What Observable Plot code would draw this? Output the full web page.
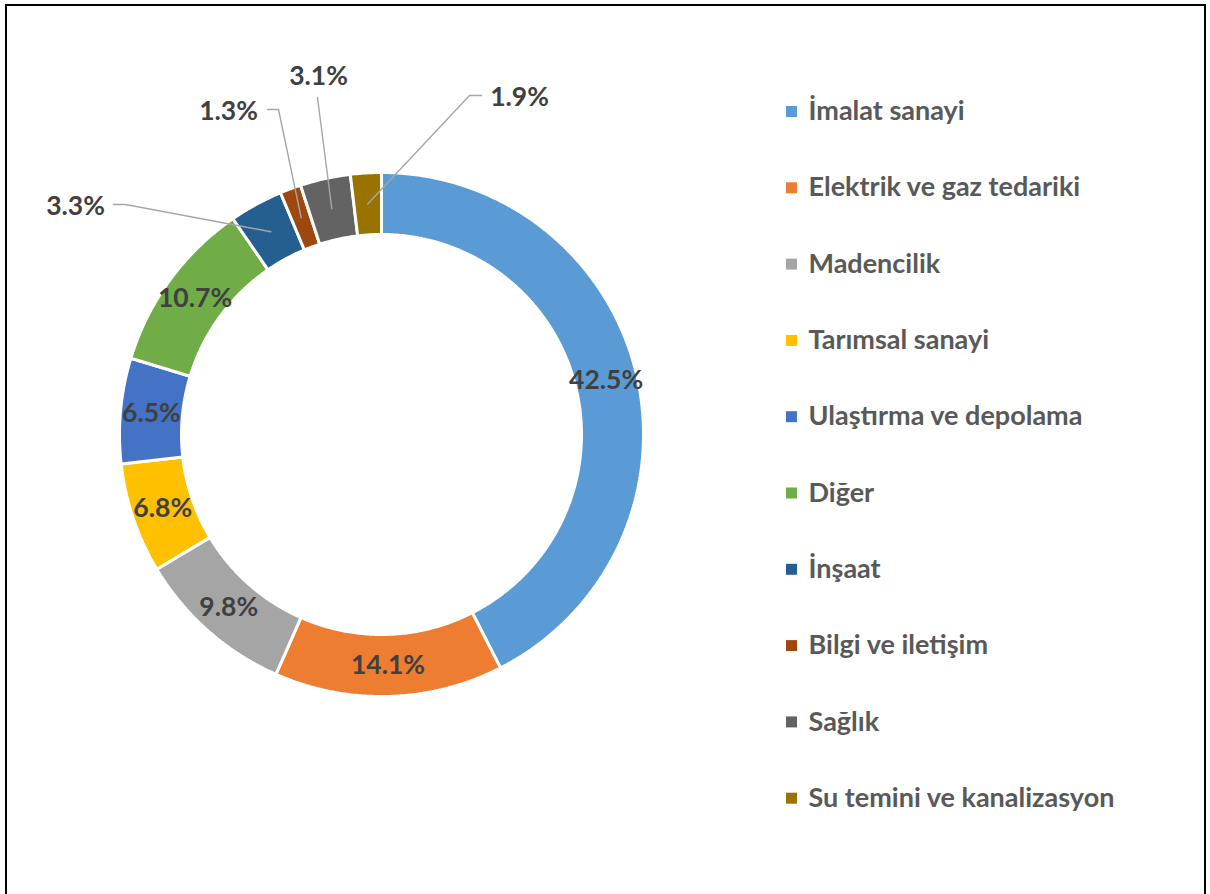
<!DOCTYPE html>
<html><head><meta charset="utf-8">
<script src="https://cdn.jsdelivr.net/npm/d3@7"></script>
<script src="https://cdn.jsdelivr.net/npm/@observablehq/plot@0.6"></script>
<style>
html,body{margin:0;padding:0;background:#fff;overflow:hidden;width:1210px;height:894px;}
#chart{position:absolute;left:0;top:0;}
#frame{position:absolute;left:5px;top:4px;width:1197px;height:1000px;border:2px solid #000;border-bottom:none;pointer-events:none;}
</style></head><body>
<div id="chart"></div><div id="frame"></div>
<script>
// ---- data ----
const categories = ["İmalat sanayi", "Elektrik ve gaz tedariki", "Madencilik", "Tarımsal sanayi", "Ulaştırma ve depolama", "Diğer", "İnşaat", "Bilgi ve iletişim", "Sağlık", "Su temini ve kanalizasyon"];
const values = [42.5, 14.1, 9.8, 6.8, 6.5, 10.7, 3.3, 1.3, 3.1, 1.9];
const colors = ["#5B9BD5", "#ED7D31", "#A5A5A5", "#FFC000", "#4472C4", "#70AD47", "#255E91", "#9E480E", "#636363", "#997300"];
const calloutCategories = ["İnşaat", "Bilgi ve iletişim", "Sağlık", "Su temini ve kanalizasyon"];

// ---- layout ----
const W = 1210, H = 894, CX = 381, CY = 434, R = 262;
const rInner = 200 / R, rLabel = 231 / R;
const FONT = "Lato, 'Open Sans', sans-serif";
const px = (x) => (x - CX) / R, py = (y) => (CY - y) / R;
// callout text anchors and elbow points (pixel layout)
const calloutLayout = {
  "İnşaat": {tx: 75, ty: 206, path: [[113, 204], [125, 204]]},
  "Bilgi ve iletişim": {tx: 228, ty: 111, path: [[267, 109], [278, 109]]},
  "Sağlık": {tx: 318, ty: 76, path: [[317, 97]]},
  "Su temini ve kanalizasyon": {tx: 519, ty: 97, path: [[481, 95], [469, 95]]}
};
const legendLayout = {sqX: 791, textX: 808, y0: 111, dy: 76.3};

// ---- derived geometry ----
const total = d3.sum(values);
let cum = 0;
const slices = categories.map((c, i) => {
  const a0 = cum / total * 2 * Math.PI; cum += values[i];
  const a1 = cum / total * 2 * Math.PI;
  return {c, v: values[i], a0, a1, am: (a0 + a1) / 2, label: values[i].toFixed(1) + "%"};
});
const arcPts = [];
for (const s of slices) {
  const n = Math.max(8, Math.ceil((s.a1 - s.a0) / (Math.PI / 360)));
  for (let k = 0; k <= n; k++) { const a = s.a0 + (s.a1 - s.a0) * k / n; arcPts.push({c: s.c, u: Math.sin(a), v: Math.cos(a)}); }
  for (let k = n; k >= 0; k--) { const a = s.a0 + (s.a1 - s.a0) * k / n; arcPts.push({c: s.c, u: rInner * Math.sin(a), v: rInner * Math.cos(a)}); }
}
const inside = slices.filter(s => !calloutCategories.includes(s.c)).map(s => ({...s, u: rLabel * Math.sin(s.am), v: rLabel * Math.cos(s.am)}));
const outside = slices.filter(s => calloutCategories.includes(s.c)).map(s => ({...s, u: px(calloutLayout[s.c].tx), v: py(calloutLayout[s.c].ty)}));
const leaderPts = [];
for (const s of slices.filter(s => calloutCategories.includes(s.c))) {
  for (const [x, y] of calloutLayout[s.c].path) leaderPts.push({c: s.c, u: px(x), v: py(y)});
  leaderPts.push({c: s.c, u: rLabel * Math.sin(s.am), v: rLabel * Math.cos(s.am)});
}
const legendRows = categories.map((c, i) => ({c, v: py(legendLayout.y0 + i * legendLayout.dy)}));

const chart = Plot.plot({
  width: W, height: H, margin: 0,
  style: {background: "white"},
  x: {domain: [px(0), px(W)], range: [0, W], axis: null},
  y: {domain: [py(H), py(0)], range: [H, 0], axis: null},
  color: {domain: categories, range: colors},
  marks: [
    Plot.line(arcPts, {x: "u", y: "v", z: "c", fill: "c", stroke: "white", strokeWidth: 3, strokeLinejoin: "miter", curve: "linear-closed"}),
    Plot.line(leaderPts, {x: "u", y: "v", z: "c", stroke: "#A6A6A6", strokeWidth: 1.4}),
    Plot.text(inside, {x: "u", y: "v", text: "label", fontFamily: FONT, fontSize: 26.5, fontWeight: "bold", fill: "#404040"}),
    Plot.text(outside, {x: "u", y: "v", text: "label", fontFamily: FONT, fontSize: 26.5, fontWeight: "bold", fill: "#404040"}),
    Plot.dot(legendRows, {x: () => px(legendLayout.sqX), y: "v", symbol: "square", r: 6.2, fill: "c"}),
    Plot.text(legendRows, {x: () => px(legendLayout.textX), y: "v", text: "c", textAnchor: "start", fontFamily: FONT, fontSize: 27, fontWeight: "bold", fill: "#595959"})
  ]
});
document.getElementById("chart").appendChild(chart);
</script>
</body></html>
